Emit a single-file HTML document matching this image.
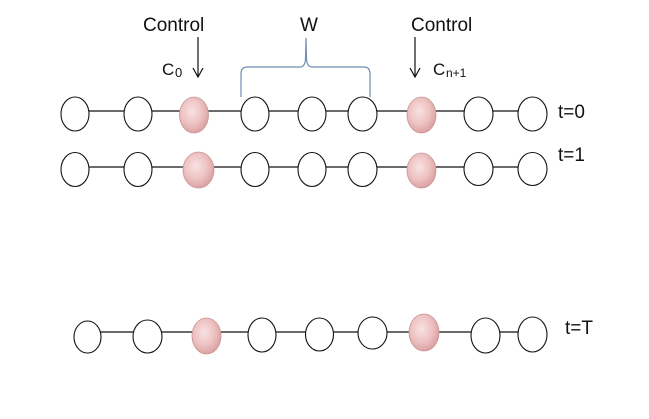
<!DOCTYPE html>
<html>
<head>
<meta charset="utf-8">
<style>
  html,body{margin:0;padding:0;background:#fff;}
  svg{display:block;}
  text{font-family:"Liberation Sans",sans-serif;fill:#111;}
</style>
</head>
<body>
<svg width="649" height="419" viewBox="0 0 649 419" xmlns="http://www.w3.org/2000/svg">
  <defs>
    <radialGradient id="pk" cx="42%" cy="40%" r="65%">
      <stop offset="0" stop-color="#f8e2e2"/>
      <stop offset="0.55" stop-color="#eec2c2"/>
      <stop offset="1" stop-color="#d89c9c"/>
    </radialGradient>
  </defs>

  <!-- Top labels -->
  <text x="143" y="31" font-size="19">Control</text>
  <text x="309" y="31" font-size="19" text-anchor="middle">W</text>
  <text x="411" y="31" font-size="19">Control</text>

  <text x="162" y="75" font-size="17">C</text>
  <text x="175" y="77" font-size="13">0</text>
  <text x="433" y="75" font-size="17">C</text>
  <text x="446" y="77" font-size="12">n+1</text>

  <!-- Arrows -->
  <g stroke="#111" stroke-width="1.2" fill="none">
    <line x1="198" y1="37" x2="198" y2="77"/>
    <polyline points="193,68 198,77 203,68"/>
    <line x1="415" y1="37" x2="415" y2="77"/>
    <polyline points="410,68 415,77 420,68"/>
  </g>

  <!-- Brace -->
  <path d="M241,97 L241,74 Q241,67 247,67 L300,67 Q305,67 305.5,59 L306,38 M306,38 L306.5,59 Q307,67 312,67 L364,67 Q370,67 370,74 L370,97"
        stroke="#6f8bb3" stroke-width="1.2" fill="none"/>

  <!-- Connector lines -->
  <g stroke="#111" stroke-width="1.2">
    <line x1="75" y1="111" x2="532" y2="111"/>
    <line x1="75" y1="167" x2="532" y2="167"/>
    <line x1="87" y1="332" x2="532" y2="332"/>
  </g>

  <g fill="#fff" stroke="#111" stroke-width="1.1">
    <!-- row 1 -->
    <ellipse cx="75" cy="114" rx="14" ry="17"/>
    <ellipse cx="138" cy="114" rx="14" ry="17"/>
    <ellipse cx="255" cy="114" rx="14" ry="17"/>
    <ellipse cx="312" cy="114" rx="14" ry="17"/>
    <ellipse cx="362.5" cy="114" rx="14.5" ry="17"/>
    <ellipse cx="478.5" cy="114" rx="14.5" ry="17"/>
    <ellipse cx="532.5" cy="114" rx="14.5" ry="17"/>
    <!-- row 2 -->
    <ellipse cx="75" cy="169.5" rx="14" ry="17"/>
    <ellipse cx="138" cy="169.5" rx="14" ry="17"/>
    <ellipse cx="255" cy="169.5" rx="14" ry="17"/>
    <ellipse cx="312" cy="169.5" rx="14" ry="17"/>
    <ellipse cx="362.5" cy="169.5" rx="14.5" ry="17"/>
    <ellipse cx="478.5" cy="169" rx="14.5" ry="16.5"/>
    <ellipse cx="532.5" cy="169" rx="14.5" ry="16.5"/>
    <!-- row 3 -->
    <ellipse cx="87.5" cy="337" rx="13.5" ry="16"/>
    <ellipse cx="147.5" cy="336.5" rx="14.5" ry="16.5"/>
    <ellipse cx="262" cy="335" rx="14" ry="17"/>
    <ellipse cx="319.5" cy="334.5" rx="14" ry="16.5"/>
    <ellipse cx="372.5" cy="333" rx="14.5" ry="16"/>
    <ellipse cx="485.5" cy="335.5" rx="14.5" ry="17.5"/>
    <ellipse cx="532.5" cy="334.5" rx="14.5" ry="17.5"/>
  </g>

  <!-- Pink control nodes -->
  <g fill="url(#pk)" stroke="#c99595" stroke-width="0.8">
    <ellipse cx="194" cy="115" rx="14.5" ry="18"/>
    <ellipse cx="421.5" cy="115" rx="14.5" ry="18"/>
    <ellipse cx="198.5" cy="170" rx="15.5" ry="18"/>
    <ellipse cx="421.5" cy="170.5" rx="14.5" ry="17.5"/>
    <ellipse cx="206.5" cy="336" rx="14.5" ry="18"/>
    <ellipse cx="424" cy="332.5" rx="15" ry="18.5"/>
  </g>

  <!-- Time labels -->
  <text x="558" y="118" font-size="19">t=0</text>
  <text x="558" y="161" font-size="19">t=1</text>
  <text x="565" y="334" font-size="19">t=T</text>
</svg>
</body>
</html>
